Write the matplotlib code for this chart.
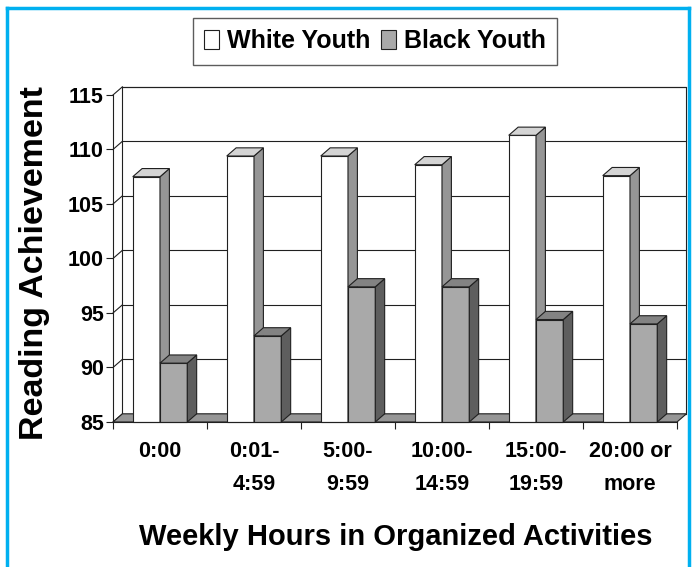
import matplotlib
matplotlib.use('Agg')
import matplotlib.pyplot as plt
from matplotlib.patches import Polygon, Patch
from matplotlib.lines import Line2D

plt.rcParams['font.family'] = ['Liberation Sans', 'DejaVu Sans']
plt.rcParams['font.weight'] = 'bold'

# ── data ────────────────────────────────────────────────────────────────
categories = ['0:00', '0:01-\n4:59', '5:00-\n9:59', '10:00-\n14:59',
              '15:00-\n19:59', '20:00 or\nmore']
white_youth = [107.5, 109.4, 109.4, 108.6, 111.3, 107.6]
black_youth = [90.4, 92.9, 97.4, 97.4, 94.4, 94.0]
y_ticks = [85, 90, 95, 100, 105, 110, 115]
series_names = ['White Youth', 'Black Youth']

# ── 3D look (Excel style) ───────────────────────────────────────────────
Y0, Y1 = 85, 115
DX, DY = 0.10, 0.75        # depth offset in data units
W = 0.29                   # bar width
EDGE = '#202020'
WHITE = ('#ffffff', '#969696', '#d4d4d4')   # front, side, top
GRAY = ('#a9a9a9', '#5e5e5e', '#838383')
n = len(categories)
x_lo, x_hi = -0.5, n - 0.5

fig = plt.figure(figsize=(6.95, 5.67), dpi=100)
H = 567.0
ax = fig.add_axes([113 / 695, (H - 422) / H, (677 + 9.4 - 113) / 695,
                   (422 - 86.8) / H])
ax.set_xlim(x_lo, x_hi + DX)
ax.set_ylim(Y0, Y1 + DY)
ax.patch.set_visible(False)


def poly(pts, fc, z):
    ax.add_patch(Polygon(pts, closed=True, facecolor=fc, edgecolor=EDGE,
                         linewidth=0.8, zorder=z, clip_on=False))


def bar3d(x0, top, cols, z):
    f, s, t = cols
    poly([(x0, Y0), (x0 + W, Y0), (x0 + W, top), (x0, top)], f, z)
    poly([(x0 + W, Y0), (x0 + W + DX, Y0 + DY), (x0 + W + DX, top + DY),
          (x0 + W, top)], s, z)
    poly([(x0, top), (x0 + W, top), (x0 + W + DX, top + DY),
          (x0 + DX, top + DY)], t, z)


# back wall + gridlines, left side wall
poly([(x_lo + DX, Y0 + DY), (x_hi + DX, Y0 + DY), (x_hi + DX, Y1 + DY),
      (x_lo + DX, Y1 + DY)], 'white', 1)
for v in y_ticks:
    ax.plot([x_lo + DX, x_hi + DX], [v + DY, v + DY], color=EDGE, lw=0.8,
            zorder=1.5, clip_on=False)
    ax.plot([x_lo, x_lo + DX], [v, v + DY], color=EDGE, lw=0.8,
            zorder=1.5, clip_on=False)

# floor
poly([(x_lo, Y0), (x_hi, Y0), (x_hi + DX, Y0 + DY), (x_lo + DX, Y0 + DY)],
     '#969696', 2)

# bars
for i in range(n):
    bar3d(i - W, white_youth[i], WHITE, 3 + i)
    bar3d(i, black_youth[i], GRAY, 3.5 + i)

# axes
for sp in ['top', 'right']:
    ax.spines[sp].set_visible(False)
ax.spines['left'].set_bounds(Y0, Y1)
ax.spines['bottom'].set_bounds(x_lo, x_hi)
for sp in ['left', 'bottom']:
    ax.spines[sp].set_linewidth(0.8)
    ax.spines[sp].set_color(EDGE)
    ax.spines[sp].set_zorder(20)

ax.set_yticks(y_ticks)
ax.set_yticklabels([str(v) for v in y_ticks], fontsize=15.5,
                   fontweight='bold')
ax.tick_params(axis='y', length=5, width=0.8, pad=1.5, colors=EDGE,
               labelcolor='black')

ax.set_xticks(range(n))
ax.set_xticklabels(categories, fontsize=15.5, fontweight='bold',
                   linespacing=1.75)
ax.set_xticks([x_lo + k for k in range(n + 1)], minor=True)
ax.tick_params(axis='x', which='major', length=0, pad=13.5)
ax.tick_params(axis='x', which='minor', length=5, width=0.8, colors=EDGE)

fig.text(35 / 695, 1 - 263 / H, 'Reading Achievement', rotation=90,
         ha='center', va='center', fontsize=24.5, fontweight='bold')
fig.text(396 / 695, 1 - 537 / H, 'Weekly Hours in Organized Activities',
         ha='center', va='center', fontsize=21, fontweight='bold')

# legend
handles = [Patch(facecolor=WHITE[0], edgecolor=EDGE, linewidth=0.8),
           Patch(facecolor=GRAY[0], edgecolor=EDGE, linewidth=0.8)]
leg = fig.legend(handles, series_names, loc='upper center', ncol=2,
                 bbox_to_anchor=(375 / 695, 1 - 18 / H), fancybox=False,
                 frameon=True, edgecolor='#333333', fontsize=18,
                 handlelength=0.6, handleheight=0.8, handletextpad=0.3,
                 columnspacing=0.45, borderpad=0.45, borderaxespad=0)
leg.get_frame().set_linewidth(1.0)
for t in leg.get_texts():
    t.set_fontweight('bold')

# blue frame
blue = '#00b0f0'
fig.add_artist(Line2D([7 / 695, 7 / 695], [0, 1 - 8 / H], color=blue, lw=2.5))
fig.add_artist(Line2D([7 / 695, 689 / 695], [1 - 8 / H, 1 - 8 / H],
                      color=blue, lw=2.5))
fig.add_artist(Line2D([689 / 695, 689 / 695], [0, 1 - 8 / H], color=blue,
                      lw=2.5))

fig.savefig('out.png', dpi=100)
